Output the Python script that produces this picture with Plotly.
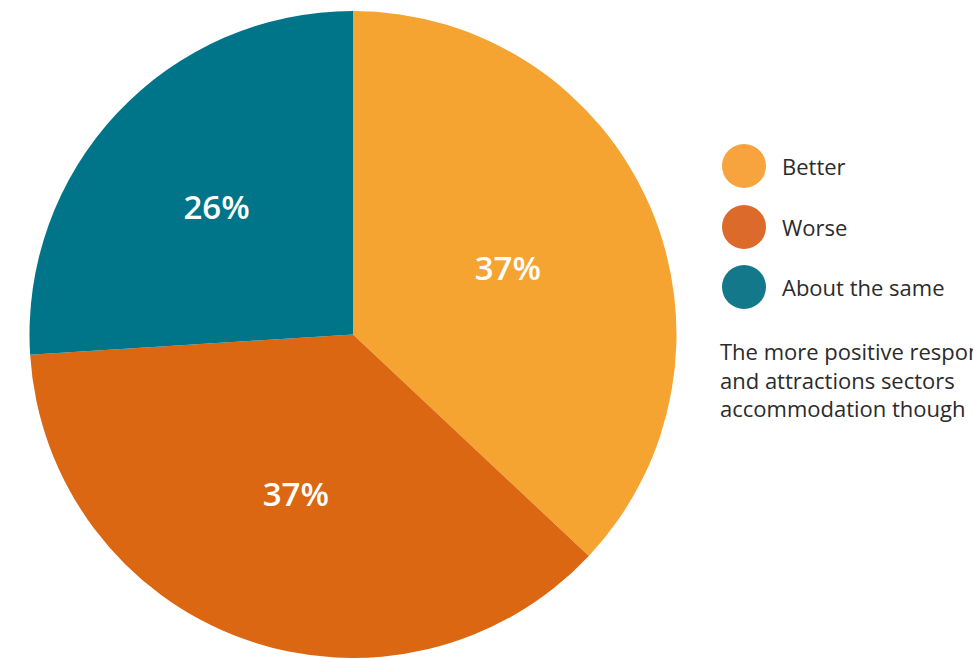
import plotly.graph_objects as go

# Survey responses: how business compares with the previous period
categories = ["Better", "Worse", "About the same"]
shares = [37, 37, 26]
colors = ["#F6A431", "#DC6712", "#00758A"]
legend_colors = ["#F7A43E", "#DC6A2A", "#13788A"]

note_lines = [
    "The more positive responses",
    "and attractions sectors",
    "accommodation though",
]

W, H = 973, 658
FONT = "'Open Sans', Lato, sans-serif"
TEXT_COLOR = "#2B2B2B"

fig = go.Figure(
    go.Pie(
        labels=categories,
        values=shares,
        sort=False,
        direction="clockwise",
        rotation=0,
        marker=dict(colors=colors, line=dict(width=0)),
        texttemplate="%{value}%",
        textposition="inside",
        insidetextorientation="horizontal",
        textfont=dict(family=FONT, size=33, color="white", weight=600),
        showlegend=False,
        hoverinfo="label+percent",
        domain=dict(x=[29 / W, 677 / W], y=[0.0, (H - 11) / H]),
    )
)

# Custom legend with round swatches
shapes = []
annotations = []
legend_y = [166, 227, 287]
for name, col, yc in zip(categories, legend_colors, legend_y):
    shapes.append(
        dict(
            type="circle",
            xref="paper", yref="paper",
            x0=722 / W, x1=766 / W,
            y0=(H - yc - 22) / H, y1=(H - yc + 22) / H,
            fillcolor=col,
            line=dict(width=0),
        )
    )
    annotations.append(
        dict(
            text=name,
            xref="paper", yref="paper",
            x=780 / W, y=(H - yc) / H,
            xanchor="left", yanchor="middle",
            showarrow=False,
            font=dict(family=FONT, size=22, color=TEXT_COLOR),
        )
    )

annotations.append(
    dict(
        text="<br>".join(note_lines),
        xref="paper", yref="paper",
        x=718 / W, y=(H - 334) / H,
        xanchor="left", yanchor="top", align="left",
        showarrow=False,
        font=dict(family=FONT, size=22, color=TEXT_COLOR),
    )
)

fig.update_layout(
    width=W,
    height=H,
    margin=dict(l=0, r=0, t=0, b=0),
    paper_bgcolor="white",
    plot_bgcolor="white",
    shapes=shapes,
    annotations=annotations,
)

fig.write_html("out.html")
